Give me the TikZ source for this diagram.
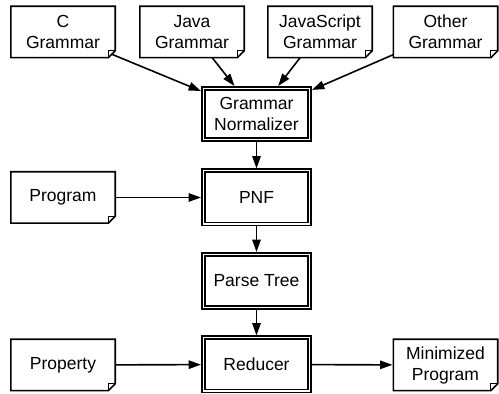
\documentclass[tikz,border=0pt]{standalone}
\usepackage{fontspec}
\setmainfont{Liberation Sans}
\usetikzlibrary{arrows.meta}
\tikzset{
  doc/.style={minimum width=52.2pt, minimum height=25.7pt, inner sep=0pt, outer sep=0pt, align=center},
  proc/.style={draw, double, double distance=0.7pt, line width=0.8pt, minimum width=53.2pt,
    minimum height=26.7pt, inner sep=0pt, outer sep=1.15pt, align=center},
  flow/.style={-{Triangle[length=6.2pt,width=4.2pt]}, line width=0.8pt}
}

\begin{document}
\begin{tikzpicture}[x=0.5pt, y=-0.5pt, font=\fontsize{8.75}{10.5}\selectfont]
  \useasboundingbox (0,0) rectangle (499,394);
  \node [doc] (cg) at (63,32) {C\\Grammar};
  \node [doc] (jg) at (192,32) {Java\\Grammar};
  \node [doc] (jsg) at (320,32) {JavaScript\\Grammar};
  \node [doc] (og) at (445.5,32) {Other\\Grammar};
  \node [doc] (prog) at (63,197.5) {Program};
  \node [doc] (prop) at (63,365) {Property};
  \node [doc] (min) at (445.5,365) {Minimized\\Program};

  \node [proc, minimum height=25.7pt] (gn) at (256.5,114) {Grammar\\Normalizer};
  \node [proc] (pnf) at (256.5,197.5) {PNF};
  \node [proc] (pt) at (256.5,281) {Parse Tree};
  \node [proc] (red) at (256.5,364.5) {Reducer};

  % note outlines with folded corner
  \foreach \n in {cg,jg,jsg,og,prog,prop,min} {
    \draw [line width=0.8pt] (\n.north west) -- (\n.north east) -- ([yshift=3.5pt]\n.south east)
      -- ([xshift=-3.5pt]\n.south east) -- (\n.south west) -- cycle;
    \draw [line width=0.4pt] ([xshift=-3.5pt]\n.south east) -- ([xshift=-3.5pt,yshift=3.5pt]\n.south east)
      -- ([yshift=3.5pt]\n.south east);
  }
  \coordinate (cgfold) at ([xshift=-1.75pt,yshift=1.75pt]cg.south east);

  \draw [flow] (cgfold) -- (gn);
  \draw [flow] (jg) -- (gn);
  \draw [flow] (jsg) -- (gn);
  \draw [flow] (og) -- (gn);
  \draw [flow] (gn) -- (pnf);
  \draw [flow] (prog) -- (pnf);
  \draw [flow] (pnf) -- (pt);
  \draw [flow] (pt) -- (red);
  \draw [flow] (prop) -- (red);
  \draw [flow, shorten >=0.4pt] (red) -- (min);
\end{tikzpicture}
\end{document}
